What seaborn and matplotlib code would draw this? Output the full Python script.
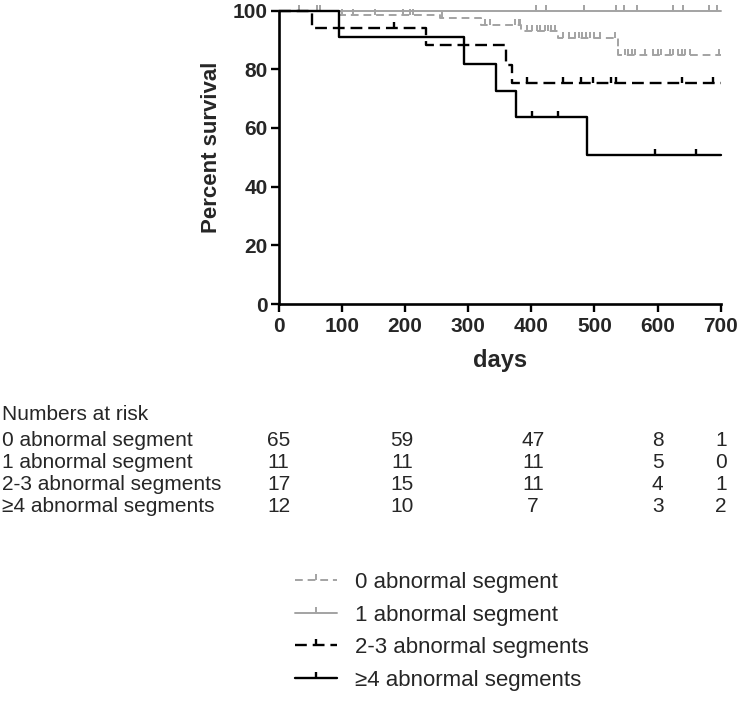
"""Kaplan-Meier style survival curves by number of abnormal segments."""

import matplotlib
matplotlib.use("Agg")
import matplotlib.pyplot as plt
import matplotlib.transforms as mtransforms
from matplotlib.lines import Line2D
import numpy as np
import pandas as pd
import seaborn as sns

# ---- data ----
group_names = [
    "0 abnormal segment",
    "1 abnormal segment",
    "2-3 abnormal segments",
    "\u22654 abnormal segments",
]

# step start times (days) and survival (%) after each step
g0_times = [0, 96, 255, 321, 384, 442, 537, 700]
g0_surv = [100, 98.5, 97.3, 95.1, 92.9, 90.6, 84.7, 84.7]
g0_censor = [100, 118, 153, 197, 208, 212, 258, 327, 335, 374, 380, 382,
             393, 401, 409, 414, 422, 427, 432, 438, 451, 459, 469, 475,
             481, 487, 493, 499, 509, 533, 538, 548, 553, 559, 564, 580,
             593, 601, 606, 619, 625, 633, 638, 643, 651, 697]

g1_times = [0, 700]
g1_surv = [100, 100]
g1_censor = [33, 60, 65, 408, 423, 484, 534, 547, 568, 624, 640, 681, 694]

g2_times = [0, 53, 234, 360, 370, 700]
g2_surv = [100, 94.1, 88.2, 81.6, 75.3, 75.3]
g2_censor = [183, 393, 450, 479, 497, 526, 534, 639, 687]

g3_times = [0, 95, 294, 344, 376, 489, 700]
g3_surv = [100, 90.9, 81.8, 72.7, 63.6, 50.9, 50.9]
g3_censor = [401, 442, 596, 661]

# numbers at risk table
risk_days = [0, 195, 403, 600, 700]
risk_g0 = [65, 59, 47, 8, 1]
risk_g1 = [11, 11, 11, 5, 0]
risk_g2 = [17, 15, 11, 4, 1]
risk_g3 = [12, 10, 7, 3, 2]

# ---- styling ----
sns.set_style("ticks")
plt.rcParams["font.family"] = ["Liberation Sans", "DejaVu Sans"]

grey = "#a3a3a3"
styles = [
    dict(color=grey, ls=(0, (4, 2.5)), lw=1.4),
    dict(color=grey, ls="-", lw=1.4),
    dict(color="black", ls=(0, (5, 2.5)), lw=1.7),
    dict(color="black", ls="-", lw=1.7),
]

fig = plt.figure(figsize=(7.4, 7.04), dpi=100)
ax = fig.add_axes([0.3765, 0.568, 0.5975, 0.417])

series = [
    (g0_times, g0_surv, g0_censor),
    (g1_times, g1_surv, g1_censor),
    (g2_times, g2_surv, g2_censor),
    (g3_times, g3_surv, g3_censor),
]

for name, (t, s, c), st in zip(group_names, series, styles):
    df = pd.DataFrame({"days": t, "surv": s})
    sns.lineplot(data=df, x="days", y="surv", ax=ax, drawstyle="steps-post",
                 estimator=None, sort=False, color=st["color"],
                 linestyle=st["ls"], linewidth=st["lw"], clip_on=False,
                 zorder=3)
    # censor marks sit on the curve value at that time
    idx = np.searchsorted(t, c, side="right") - 1
    cy = np.asarray(s)[idx]
    ax.plot(c, cy, linestyle="none", marker=2, markersize=4.5,
            markeredgewidth=st["lw"], color=st["color"], clip_on=False,
            zorder=3)

ax.set_xlim(0, 700)
ax.set_ylim(0, 100)
ax.set_xticks(range(0, 701, 100))
ax.set_yticks(range(0, 101, 20))
for lab in ax.get_xticklabels() + ax.get_yticklabels():
    lab.set_fontweight("bold")
ax.tick_params(axis="both", labelsize=15, width=1.7, length=5.5,
               direction="out", color="black", pad=2.5)
ax.tick_params(axis="x", pad=4)
for sp in ["left", "bottom"]:
    ax.spines[sp].set_linewidth(1.9)
    ax.spines[sp].set_color("black")
sns.despine(ax=ax)
ax.set_xlabel("days", fontsize=17, fontweight="bold", labelpad=9)
ax.set_ylabel("Percent survival", fontsize=16, fontweight="bold", labelpad=9)
ax.yaxis.set_label_coords(-0.128, 0.535)

# ---- numbers at risk table ----
H = 704.0
trans = mtransforms.blended_transform_factory(ax.transData, fig.transFigure)
fig.text(2 / 740, 1 - 415 / H, "Numbers at risk", fontsize=15, va="center")
row_y = [440, 462, 484, 506]
risk_rows = [risk_g0, risk_g1, risk_g2, risk_g3]
for name, y, vals in zip(group_names, row_y, risk_rows):
    fig.text(2 / 740, 1 - y / H, name, fontsize=15, va="center")
    for d, v in zip(risk_days, vals):
        ax.text(d, 1 - y / H, str(v), transform=trans, fontsize=15,
                ha="center", va="center", clip_on=False)

# ---- legend ----
handles = [
    Line2D([], [], color=st["color"], linestyle=st["ls"], linewidth=st["lw"],
           marker=2, markersize=4.5, markeredgewidth=st["lw"])
    for st in styles
]
fig.legend(handles, group_names, loc="upper left",
           bbox_to_anchor=(295 / 740, 1 - 572 / H), frameon=False,
           fontsize=16, handlelength=1.9, handletextpad=0.8,
           labelspacing=0.52, borderaxespad=0, borderpad=0)

fig.savefig("out.png", dpi=100)
